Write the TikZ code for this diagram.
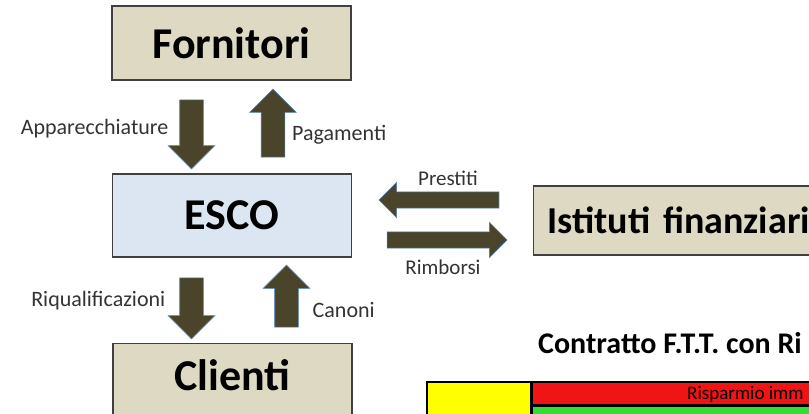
\documentclass[tikz,border=0pt]{standalone}
\usepackage{fontspec}
\setmainfont{Carlito}
\usetikzlibrary{shapes,positioning,calc}
\definecolor{boxbeige}{HTML}{DDD9C3}
\definecolor{escoblue}{HTML}{DCE6F2}
\definecolor{boxedge}{HTML}{404040}
\definecolor{flowfill}{HTML}{4A452A}
\definecolor{flowedge}{HTML}{4F81BD}
\definecolor{tabyellow}{HTML}{FFFF00}
\definecolor{tabred}{HTML}{F01414}
\definecolor{tabgreen}{HTML}{33DD33}
\tikzset{
    party/.style={
        rectangle,
        draw=boxedge,
        line width=1.3pt,
        fill=boxbeige,
        minimum width=239pt,
        minimum height=74pt,
        inner sep=0pt,
        font=\fontsize{44}{50}\selectfont\bfseries,
    },
    esco/.style={
        party,
        fill=escoblue,
        minimum height=83pt,
    },
    flow/.style={
        single arrow,
        draw=flowedge,
        line width=0.6pt,
        fill=flowfill,
        inner xsep=11.5pt,
        inner ysep=0pt,
        single arrow head extend=11.5pt,
        minimum width=46pt,
        outer sep=0pt,
    },
    sideflow/.style={
        flow,
        inner xsep=0pt,
        inner ysep=7.8pt,
        single arrow head extend=9.5pt,
        minimum width=35pt,
    },
    flowlabel/.style={
        inner sep=0pt,
        text=black!80,
        font=\fontsize{22}{24}\selectfont,
    },
    cell/.style={
        draw=black,
        line width=2.5pt,
    },
    x=1pt, y=-1pt,
}

\begin{document}
\begin{tikzpicture}
    \useasboundingbox (0,0) rectangle (809,414);
    \clip (0,0) rectangle (809,414);

    % the three parties on the left
    \node [party] (fornitori) at (231.5,43) {Fornitori};
    \node [esco] (esco) at (232,215.5) {ESCO};
    \node [party, anchor=north, minimum height=0pt, text height=47pt, text depth=40pt] (clienti) at (232.5,343) {Clienti};
    \node [party, anchor=west, minimum height=69pt, inner xsep=14pt, text width=300pt, align=left, font=\fontsize{38}{44}\selectfont\bfseries] (istituti) at (533,220.5) {Istituti finanziari};

    % flows between them
    \node [flow, minimum height=69pt, shape border rotate=270] (appar) at (191.5,128.5) {};
    \node [flow, minimum height=68pt, shape border rotate=90] (pagam) at (273,129) {};
    \node [flow, minimum height=61pt, shape border rotate=270] (riqual) at (191.5,302.5) {};
    \node [flow, minimum height=62pt, shape border rotate=90] (canoni) at (286.5,302) {};
    \node [sideflow, minimum height=120pt, shape border rotate=180] (prest) at (443,200) {};
    \node [sideflow, minimum height=120pt] (rimb) at (443,240) {};

    \node [flowlabel, left=23pt of appar.center] (lappar) {Apparecchiature};
    \node [flowlabel, right=19pt of pagam.center, yshift=-6pt] (lpagam) {Pagamenti};
    \node [flowlabel, left=26pt of riqual.center, yshift=2pt] (lriqual) {Riqualificazioni};
    \node [flowlabel, right=26pt of canoni.center, yshift=-8pt] (lcanoni) {Canoni};
    \node [flowlabel, above=14pt of prest.center, xshift=5pt, font=\fontsize{21}{24}\selectfont] (lprest) {Prestiti};
    \node [flowlabel, below=20pt of rimb.center, font=\fontsize{21}{24}\selectfont] (lrimb) {Rimborsi};

    % contract table, cut by the frame
    \node [anchor=base west, inner sep=0pt, font=\fontsize{30}{34}\selectfont\bfseries] (contratto) at (538,353) {Contratto F.T.T. con Ri};
    \draw [cell, fill=tabyellow] (427,382) rectangle (531.5,430);
    \draw [cell, fill=tabred] (531.5,382) rectangle (830,405.5);
    \draw [cell, fill=tabgreen] (531.5,405.5) rectangle (830,430);
    \node [anchor=west, inner sep=0pt, font=\fontsize{19}{22}\selectfont] (risparmio) at (687,394) {Risparmio imm};
\end{tikzpicture}
\end{document}
